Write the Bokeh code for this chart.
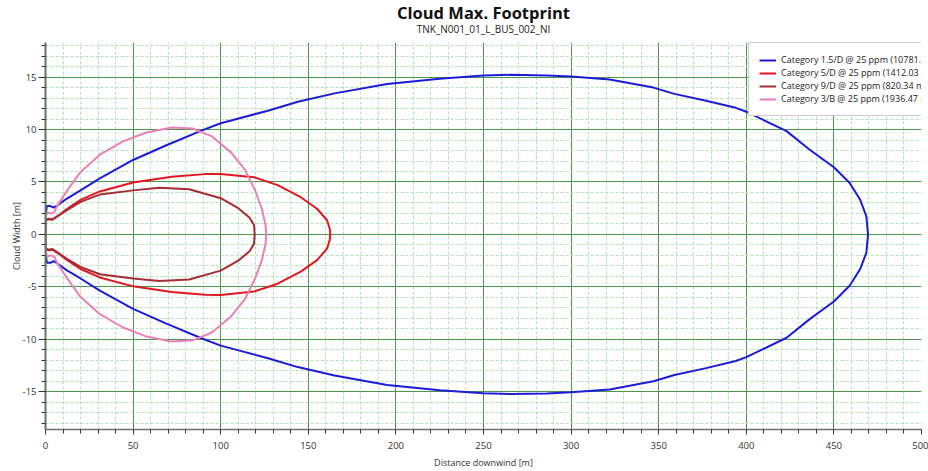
from bokeh.plotting import figure
from bokeh.models import Range1d, Title, Legend, LegendItem, SingleIntervalTicker
from bokeh.embed import file_html
from bokeh.resources import INLINE

# ---- data ----
labels = [
    "Category 1.5/D @ 25 ppm (10781.7 m2)",
    "Category 5/D @ 25 ppm (1412.03 m2)",
    "Category 9/D @ 25 ppm (820.34 m2)",
    "Category 3/B @ 25 ppm (1936.47 m2)",
]
colors = ["#1c1cd8", "#e2161e", "#a52d33", "#ea80b6"]

# distance downwind [m] and half cloud width [m] (upper branch; the footprint is symmetric)
x_15d = [0, 0, 0.8, 2.8, 4.7, 6.6, 12, 20, 31, 50, 69, 89, 100, 127, 144, 165, 195, 225,
         250, 266, 286, 300, 322, 347, 359, 377, 394, 400, 423, 436, 450, 459, 465, 468.5, 469.5]
w_15d = [0, 1.8, 2.7, 2.7, 2.55, 2.75, 3.4, 4.2, 5.35, 7.1, 8.5, 9.9, 10.6, 11.8, 12.65, 13.45, 14.35, 14.85,
         15.15, 15.22, 15.16, 15.05, 14.78, 14.0, 13.4, 12.75, 12.07, 11.7, 9.85, 8.1, 6.4, 4.9, 3.3, 1.75, 0]

x_5d = [0, 0, 1.5, 4, 8.5, 12, 20, 31, 50, 72, 91, 100, 119, 132.5, 145.7, 155, 160.7, 162.3, 162.5]
w_5d = [0, 1.3, 1.5, 1.45, 1.95, 2.4, 3.3, 4.1, 4.95, 5.5, 5.75, 5.77, 5.45, 4.7, 3.55, 2.45, 1.35, 0.5, 0]

x_9d = [0, 0, 1.5, 4, 8.5, 12, 20, 31, 50, 65, 82, 100, 110, 116.5, 119, 119.4]
w_9d = [0, 1.3, 1.45, 1.4, 1.9, 2.3, 3.1, 3.8, 4.2, 4.45, 4.3, 3.45, 2.5, 1.6, 0.9, 0]

x_3b = [0, 0, 1, 3, 5, 6.6, 12.2, 19.7, 31, 44, 57, 72, 84, 95, 106, 113.7, 119.4, 123.5, 125.6, 126]
w_3b = [0, 1.6, 2.1, 2.0, 2.1, 2.7, 4.15, 5.9, 7.6, 8.85, 9.7, 10.2, 10.1, 9.35, 7.8, 6.2, 4.3, 2.45, 0.9, 0]

x_tick_values = list(range(0, 501, 50))
y_tick_values = list(range(-15, 16, 5))
X_MIN, X_MAX = 0, 500
Y_MIN, Y_MAX = -18.6, 18.3
x_title = "Distance downwind [m]"
y_title = "Cloud Width [m]"

series = [(x_15d, w_15d), (x_5d, w_5d), (x_9d, w_9d), (x_3b, w_3b)]


def closed(xs, ws):
    X = list(xs) + list(reversed(xs))
    Y = list(ws) + [-w for w in reversed(ws)]
    return X, Y


FONT = "Open Sans"

p = figure(width=928, height=471, output_backend="svg", toolbar_location=None,
           x_range=Range1d(X_MIN, X_MAX), y_range=Range1d(Y_MIN, Y_MAX),
           min_border_left=45, min_border_right=7, min_border_top=42, min_border_bottom=38,
           title="Cloud Max. Footprint")
p.background_fill_color = "white"
p.border_fill_color = "white"
p.outline_line_color = None

p.title.align = "center"
p.title.text_font = FONT
p.title.text_font_size = "16.5px"
p.title.text_font_style = "bold"
p.title.text_color = "#111111"
p.title.standoff = -22
p.add_layout(Title(text="TNK_N001_01_L_BUS_002_NI", align="center", text_font=FONT,
                   text_font_size="10px", text_font_style="normal", text_color="#222222",
                   standoff=14), "above")

p.xaxis.ticker = SingleIntervalTicker(interval=50, num_minor_ticks=5)
p.yaxis.ticker = SingleIntervalTicker(interval=5, num_minor_ticks=5)
p.xaxis.major_label_overrides = {v: str(v) for v in x_tick_values}
p.yaxis.major_label_overrides = {v: str(v) for v in y_tick_values}
p.xaxis.axis_label = x_title
p.yaxis.axis_label = y_title

for ax in (p.xaxis[0], p.yaxis[0]):
    ax.major_label_text_font = FONT
    ax.major_label_text_font_size = "9.5px"
    ax.major_label_text_color = "#333333"
    ax.major_label_text_line_height = 0.9
    ax.axis_label_text_font = FONT
    ax.axis_label_text_font_size = "9px"
    ax.axis_label_text_font_style = "normal"
    ax.axis_label_text_color = "#333333"
    ax.axis_label_text_line_height = 0.9
    ax.major_tick_line_color = "#333333"
    ax.minor_tick_line_color = "#333333"

p.xaxis.major_label_standoff = 7
p.xaxis.axis_label_standoff = 4
p.yaxis.major_label_standoff = 2
p.yaxis.axis_label_standoff = -3

p.xaxis.axis_line_color = "#707070"
p.xaxis.axis_line_width = 1.5
p.xaxis.major_tick_out = 5
p.xaxis.major_tick_in = 0
p.xaxis.minor_tick_out = 4
p.xaxis.minor_tick_in = 0
p.yaxis.axis_line_color = "#5b7d5b"
p.yaxis.axis_line_width = 2
p.yaxis.major_tick_out = 7
p.yaxis.major_tick_in = 0
p.yaxis.minor_tick_out = 4
p.yaxis.minor_tick_in = 0

for g in (p.xgrid[0], p.ygrid[0]):
    g.grid_line_color = "#4c964c"
    g.grid_line_width = 1
    g.minor_grid_line_color = "#b0e4b0"
    g.minor_grid_line_dash = "3 2"
    g.minor_grid_line_width = 1

items = []
for (xs, ws), c, lab in zip(series, colors, labels):
    X, Y = closed(xs, ws)
    r = p.line(X, Y, line_color=c, line_width=2)
    items.append(LegendItem(label=lab, renderers=[r]))

legend = Legend(items=items, location=(703, 313), orientation="vertical")
legend.label_text_font = FONT
legend.label_text_font_size = "9px"
legend.label_text_color = "#222222"
legend.label_text_line_height = 0.9
legend.glyph_width = 17
legend.glyph_height = 12
legend.label_height = 12
legend.label_standoff = 5
legend.spacing = 0
legend.padding = 10
legend.margin = 0
legend.border_line_color = "#a0a0a0"
legend.background_fill_color = "white"
legend.background_fill_alpha = 1
p.add_layout(legend)

open("out.html", "w").write(file_html(p, INLINE))
